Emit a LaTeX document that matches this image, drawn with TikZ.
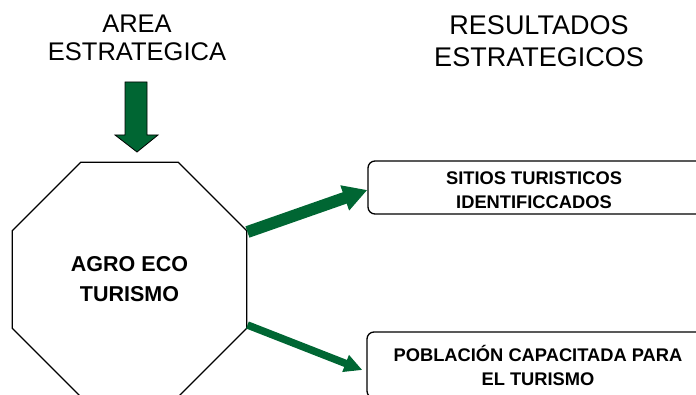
\documentclass[tikz,border=0pt]{standalone}
\usepackage{fontspec}
\setmainfont{Liberation Sans}
\usetikzlibrary{shapes.geometric,arrows.meta,calc}
\definecolor{dkgreen}{HTML}{006633}
\begin{document}
\begin{tikzpicture}[x=1pt,y=-1pt,
  titleA/.style={align=center, inner sep=0pt, font=\fontsize{25.5}{27.5}\selectfont},
  titleB/.style={align=center, inner sep=0pt, font=\fontsize{27}{32.5}\selectfont},
  octa/.style={draw, line width=1.2pt, regular polygon, regular polygon sides=8,
    minimum size=254pt, inner sep=0pt, align=center,
    font=\bfseries\fontsize{21.5}{30}\selectfont},
  result/.style={draw, line width=1.3pt, rounded corners=7pt, inner sep=0pt},
  boxtext/.style={align=center, inner sep=0pt, font=\bfseries\fontsize{18.3}{24}\selectfont},
  blockarrow/.style={fill=dkgreen, draw=black, line width=0.8pt, line join=miter},
  flow/.style={draw=dkgreen}
]
\useasboundingbox (0,0) rectangle (696,395);
\node[titleA] (t1) at (137,38) {AREA\\ESTRATEGICA};
\node[titleB] (t2) at (539,41) {RESULTADOS\\ESTRATEGICOS};
\node[octa] (oct) at (129.5,279.5) {AGRO ECO\\TURISMO};
\node[result, minimum width=352pt, minimum height=53pt] (r1) at (544,187.5) {};
\node[boxtext] (r1t) at (534,190) {SITIOS TURISTICOS\\IDENTIFICCADOS};
\node[result, minimum width=352pt, minimum height=66pt] (r2) at (543,365) {};
\node[boxtext] (r2t) at (538,365) {POBLACIÓN CAPACITADA PARA\\EL TURISMO};
\filldraw[blockarrow] (125,82) -- (147,82) -- (147,135) -- (158,135) -- (137,152) -- (115,135) -- (125,135) -- cycle;
\draw[flow, line width=12pt, -{Triangle[length=24pt,width=25pt]}] ([yshift=47.5pt]oct.east) -- ([yshift=-2.5pt]r1.west);
\draw[flow, line width=7.5pt, -{Triangle[length=18pt,width=17pt]}] ([yshift=-45.5pt]oct.east) -- ([xshift=-4pt,yshift=-5pt]r2.west);
\end{tikzpicture}
\end{document}
